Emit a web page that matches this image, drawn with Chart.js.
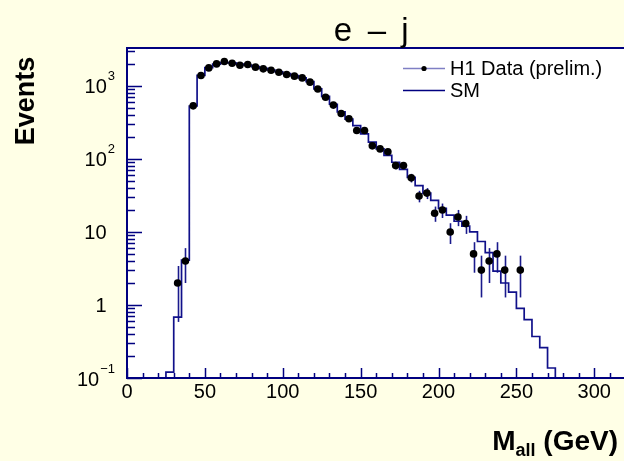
<!DOCTYPE html>
<html>
<head>
<meta charset="utf-8">
<script src="https://cdn.jsdelivr.net/npm/chart.js@4.4.1/dist/chart.umd.min.js"></script>
<style>
html,body{margin:0;padding:0;background:#ffffe6;overflow:hidden;}
#wrap{width:660px;height:461px;}
</style>
</head>
<body>
<div id="wrap"><canvas id="plot" width="660" height="461"></canvas></div>
<script>
/* ===== Data ===== */
const dataMass = [32.5,37.5,42.5,47.5,52.5,57.5,62.5,67.5,72.5,77.5,82.5,87.5,92.5,97.5,102.5,107.5,112.5,117.5,122.5,
  127.5,132.5,137.5,142.5,147.5,152.5,157.5,162.5,167.5,172.5,177.5,182.5,187.5,192.5,197.5,202.5,207.5,212.5,217.5,
  222.5,227.5,232.5,237.5,242.5,252.5];
const dataEvents = [2,4,533,1387,1763,2000,2158,2045,1919,1962,1803,1709,1640,1539,1432,1358,1286,1124,907,
  700,545,419,354,245,245,151,137,125,81,81,55,31,34,18,20,10,16,13,
  5,3,4,5,3,3];

const smBinLow = [25,30,35,40,45,50,55,60,65,70,75,80,85,90,95,100,105,110,115,
  120,125,130,135,140,145,150,155,160,165,170,175,180,185,190,195,200,205,210,215,220,
  225,230,235,240,245,250,255,260,265,270];
const smEvents = [0.12,0.68,4.1,530,1390,1780,1980,2080,2070,1990,1930,1840,1740,1650,1560,1470,1380,1290,1140,
  910,720,560,440,350,285,220,170,137,112,90,72,56,43,34,27,21,17,14,12,10,
  7.4,5.2,2.9,2.0,1.5,0.9,0.63,0.37,0.26,0.137];
const BIN_WIDTH = 5;

const xTickLabels = [0,50,100,150,200,250,300];
const yTickValues = [0.1,1,10,100,1000];
const yTickBase = ["10","1","10","10","10"];
const yTickExp  = ["\u22121","","","2","3"];

const X_MIN = 0, X_MAX = 330;
const Y_MIN = 0.1, Y_MAX = 3300;

const FONT = "'Liberation Sans', Arial, Helvetica, sans-serif";
const NAVY = "#000080";

/* ===== Histogram outline for SM ===== */
const smPoints = [{x:smBinLow[0], y:Y_MIN}];
smBinLow.forEach((lo,i)=>smPoints.push({x:lo, y:smEvents[i]}));
smPoints.push({x:smBinLow[smBinLow.length-1]+BIN_WIDTH, y:Y_MIN});

/* ===== Decorations: frame, ticks, labels, error bars, legend ===== */
const h1Style = {
  id: "h1Style",
  beforeDraw(chart){
    const {ctx, chartArea:a} = chart;
    ctx.save();
    ctx.fillStyle = "#ffffe6";
    ctx.fillRect(0,0,chart.width,chart.height);
    ctx.fillStyle = "#ffffff";
    ctx.fillRect(a.left,a.top,a.right-a.left,a.bottom-a.top);
    ctx.restore();
  },
  beforeDatasetsDraw(chart){
    const {ctx, scales:{x,y}} = chart;
    ctx.save();
    ctx.strokeStyle = "#1a1a8c";
    ctx.lineWidth = 1.6;
    dataMass.forEach((m,i)=>{
      const n = dataEvents[i], e = Math.sqrt(n);
      const px = Math.round(x.getPixelForValue(m))+0.5;
      ctx.beginPath();
      ctx.moveTo(px, y.getPixelForValue(n+e));
      ctx.lineTo(px, y.getPixelForValue(Math.max(n-e, Y_MIN)));
      ctx.stroke();
    });
    ctx.restore();
  },
  afterDraw(chart){
    const {ctx, chartArea:a, scales:{x,y}} = chart;
    ctx.save();

    // ticks
    ctx.strokeStyle = NAVY;
    ctx.lineWidth = 1.5;
    ctx.beginPath();
    for(let v=X_MIN; v<=X_MAX; v+=10){
      const px = Math.round(x.getPixelForValue(v))+0.5;
      const len = v%50===0 ? 10 : 5;
      ctx.moveTo(px,a.bottom); ctx.lineTo(px,a.bottom-len);
    }
    for(let d=-1; d<=3; d++){
      for(let k=1; k<=9; k++){
        const v = k*Math.pow(10,d);
        if(v<Y_MIN || v>Y_MAX) continue;
        const py = Math.round(y.getPixelForValue(v))+0.5;
        const len = k===1 ? 15 : 8;
        ctx.moveTo(a.left,py); ctx.lineTo(a.left+len,py);
      }
    }
    ctx.stroke();

    // frame
    ctx.lineWidth = 2;
    ctx.strokeRect(a.left, a.top, a.right-a.left, a.bottom-a.top);

    // tick labels
    ctx.fillStyle = "#000";
    ctx.font = `20px ${FONT}`;
    ctx.textAlign = "center";
    ctx.textBaseline = "middle";
    xTickLabels.forEach(v=>ctx.fillText(String(v), x.getPixelForValue(v), a.bottom+14));

    yTickValues.forEach((v,i)=>{
      const py = y.getPixelForValue(v);
      const base = yTickBase[i], exp = yTickExp[i];
      ctx.textBaseline = "middle";
      if(exp){
        ctx.font = `13px ${FONT}`;
        const ew = ctx.measureText(exp).width;
        ctx.textAlign = "right";
        ctx.fillText(exp, 115, py-9);
        ctx.font = `20px ${FONT}`;
        ctx.fillText(base, 115-ew-1, py+2);
      }else{
        ctx.font = `20px ${FONT}`;
        ctx.textAlign = "right";
        ctx.fillText(base, 106.5, py+2);
      }
    });

    // title "e - j" with wide spacing
    ctx.font = `33px ${FONT}`;
    ctx.textAlign = "center";
    ctx.textBaseline = "alphabetic";
    ctx.fillText("e", 343, 41);
    ctx.fillText("\u2013", 377, 41);
    ctx.fillText("j", 405, 41);

    // y axis title
    ctx.save();
    ctx.translate(27, 101);
    ctx.rotate(-Math.PI/2);
    ctx.font = `bold 27px ${FONT}`;
    ctx.textAlign = "center";
    ctx.textBaseline = "middle";
    ctx.fillText("Events", 0, 0);
    ctx.restore();

    // x axis title: M_all (GeV), right aligned
    const right = 618, base = 450;
    ctx.textAlign = "left";
    ctx.textBaseline = "alphabetic";
    ctx.font = `bold 28px ${FONT}`;
    const wRest = ctx.measureText(" (GeV)").width;
    const wM = ctx.measureText("M").width;
    ctx.font = `bold 18px ${FONT}`;
    const wSub = ctx.measureText("all").width;
    let cx = right - wRest - wSub - wM;
    ctx.font = `bold 28px ${FONT}`;
    ctx.fillText("M", cx, base); cx += wM;
    ctx.font = `bold 18px ${FONT}`;
    ctx.fillText("all", cx, base+6); cx += wSub;
    ctx.font = `bold 28px ${FONT}`;
    ctx.fillText(" (GeV)", cx, base);

    // legend
    ctx.lineWidth = 1.5;
    ctx.strokeStyle = "#7f7fc4";
    ctx.beginPath(); ctx.moveTo(403,68.5); ctx.lineTo(445,68.5); ctx.stroke();
    ctx.fillStyle = "#000";
    ctx.beginPath(); ctx.arc(424,68.5,2.6,0,Math.PI*2); ctx.fill();
    ctx.strokeStyle = NAVY;
    ctx.beginPath(); ctx.moveTo(403,90.5); ctx.lineTo(445,90.5); ctx.stroke();
    ctx.font = `20px ${FONT}`;
    ctx.textAlign = "left";
    ctx.textBaseline = "middle";
    ctx.fillText("H1 Data (prelim.)", 450, 69);
    ctx.fillText("SM", 450, 91);

    ctx.restore();
  }
};

/* ===== Chart ===== */
new Chart(document.getElementById("plot"), {
  type: "scatter",
  data: {
    datasets: [
      {
        label: "SM",
        type: "line",
        data: smPoints,
        stepped: "before",
        borderColor: "#10108a",
        borderWidth: 1.7,
        pointRadius: 0,
        fill: false,
        order: 2
      },
      {
        label: "H1 Data (prelim.)",
        data: dataMass.map((m,i)=>({x:m, y:dataEvents[i]})),
        backgroundColor: "#000",
        borderColor: "#000",
        pointRadius: 3.8,
        pointHoverRadius: 3.8,
        borderWidth: 0,
        order: 1
      }
    ]
  },
  options: {
    responsive: false,
    animation: false,
    devicePixelRatio: 1,
    layout: { padding: { left: 127, top: 48, right: 19, bottom: 83 } },
    plugins: { legend: {display:false}, title: {display:false}, tooltip: {enabled:false} },
    scales: {
      x: { type: "linear", min: X_MIN, max: X_MAX, display: false },
      y: { type: "logarithmic", min: Y_MIN, max: Y_MAX, display: false }
    }
  },
  plugins: [h1Style]
});
</script>
</body>
</html>
